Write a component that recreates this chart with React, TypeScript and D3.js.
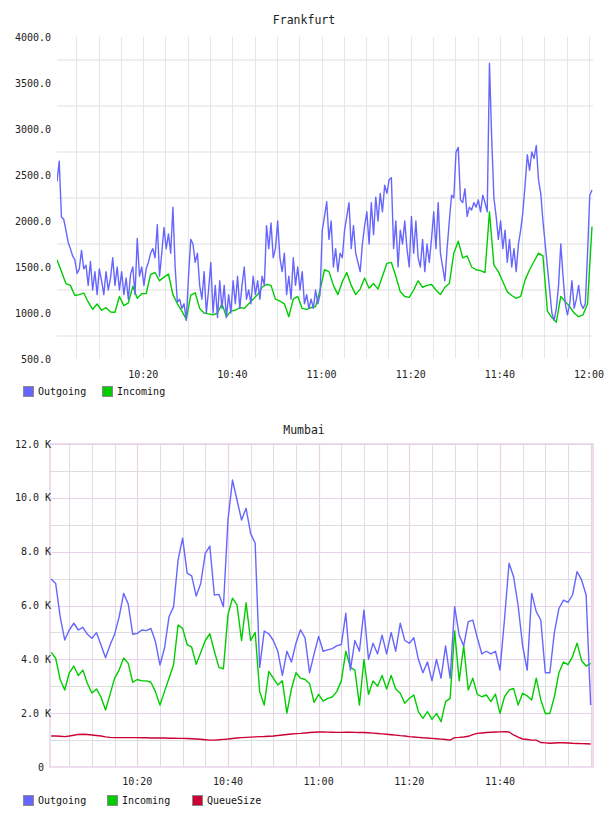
import React, { useEffect, useRef } from 'react';
import * as d3 from 'd3';

// Frankfurt: outgoing sampled every 30 s, incoming every minute, from 10:00:40
const FRA_START = '10:00:40';
const FRA_END = '12:00:40';
const FRA_OUT_STEP = 30;
const FRA_IN_STEP = 60;
const FRA_OUT = [
  2430, 2650, 2040, 2020, 1900, 1770, 1700, 1620, 1580, 1430, 1480, 1680, 1480, 1520, 1300, 1560,
  1250, 1450, 1200, 1480, 1350, 1200, 1450, 1250, 1380, 1600, 1300, 1500, 1250, 1450, 1200, 1380,
  1150, 1420, 1500, 1200, 1810, 1400, 1500, 1300, 1480, 1550, 1650, 1700, 1600, 1960, 1400, 1650,
  1930, 1700, 1860, 1650, 2150, 1500, 1120, 1150, 1050, 1100, 920, 1400, 1800, 1750, 1550, 1650,
  1300, 1150, 1450, 1000, 1250, 1550, 1000, 1300, 950, 1350, 1050, 1300, 950, 1200, 1000, 1350,
  1100, 1400, 1050, 1300, 1500, 1150, 1250, 1100, 1400, 1200, 1350, 1150, 1400, 1300, 1950, 1700,
  1980, 1600, 1700, 2000, 1600, 1450, 1650, 1200, 1400, 1150, 1600, 1300, 1500, 1250, 1450, 1100,
  1200, 1050, 1150, 1050, 1250, 1100, 1200, 1900, 2050, 2210, 1800, 2000, 1500, 1700, 1450, 1650,
  1600, 1900, 2050, 2200, 1700, 1950, 1650, 1550, 1450, 1750, 1950, 2100, 1750, 2200, 1850, 2260,
  2000, 2300, 2100, 2390, 2300, 2450, 2470, 1700, 2000, 1500, 1900, 1750, 2000, 1700, 1500, 2050,
  1650, 2000, 1600, 1500, 1800, 1450, 1750, 1550, 1800, 2100, 1700, 2200, 1650, 1500, 1350, 1700,
  2000, 2280, 2250, 2750, 2800, 2230, 2200, 2350, 2050, 2150, 2120, 2200, 2150, 2230, 2100, 2280,
  2200, 2100, 3714, 2900, 2250, 2050, 1800, 2000, 1700, 1900, 1550, 1800, 1500, 1700, 1450, 1750,
  1900, 2100, 2400, 2720, 2550, 2750, 2680, 2820, 2450, 2300, 2000, 1750, 1500, 1250, 1000, 920,
  1050, 1300, 1750, 1400, 1100, 980, 1100, 1350, 1050, 1150, 1300, 1100, 1050, 1100, 1650, 2280,
  2337,
];
const FRA_IN = [
  1580, 1450, 1320, 1300, 1190, 1200, 1217, 1120, 1040, 1098, 1030, 1058, 1010, 1008, 1180, 1080,
  1110, 1290, 1160, 1210, 1212, 1420, 1440, 1350, 1390, 1424, 1200, 1100, 1020, 930, 1195, 1220,
  1050, 1000, 990, 980, 1000, 1100, 960, 1020, 1030, 1060, 1050, 1100, 1150, 1200, 1280, 1310,
  1300, 1150, 1130, 1100, 960, 1150, 1180, 1050, 1040, 1060, 1070, 1250, 1470, 1450, 1300, 1200,
  1340, 1440, 1300, 1200, 1260, 1380, 1270, 1320, 1260, 1400, 1540, 1550, 1400, 1230, 1180, 1170,
  1250, 1350, 1280, 1300, 1310, 1250, 1200, 1280, 1320, 1650, 1780, 1600, 1620, 1500, 1470, 1460,
  1440, 2100, 1520, 1450, 1340, 1230, 1190, 1160, 1180, 1360, 1470, 1560, 1650, 1620, 1020, 950,
  900, 1180, 1124, 1070, 1000, 960, 980, 1100, 1940,
];
const FRA_Y_TICKS = [4000, 3500, 3000, 2500, 2000, 1500, 1000, 500];
const FRA_Y_GRID = [3750, 3250, 2750, 2250, 1750, 1250, 750];
const FRA_TIME_LABELS = ['10:20', '10:40', '11:00', '11:20', '11:40', '12:00'];

// Mumbai: all series sampled every minute from 10:01
const MUM_START = '10:01:00';
const MUM_DOMAIN = ['10:00:45', '12:00:31'];
const MUM_STEP = 60;
const MUM_OUT = [
  6985, 6820, 5580, 4720, 5090, 5340, 5090, 5190, 4930, 4780, 4990, 4530, 4060, 4530, 4930, 5580,
  6450, 6055, 4930, 4965, 5090, 5065, 5150, 4660, 3790, 4410, 5580, 5950, 7690, 8500, 7200, 7100,
  6350, 6820, 7940, 8210, 6390, 6415, 5955, 9175, 10660, 9920, 9175, 9610, 8680, 8310, 3700, 5050,
  4950, 4700, 4300, 3400, 4300, 3900, 4600, 5100, 4800, 3500, 4200, 4850, 4300, 4350, 4400, 4500,
  4550, 5710, 3600, 4700, 4300, 5830, 4000, 4600, 4200, 4900, 4200, 5000, 4300, 5340, 4700, 4600,
  4800, 4000, 3500, 3900, 3200, 4000, 3300, 4500, 3300, 5955, 4900, 4500, 5400, 5460, 4800, 4200,
  4300, 4200, 4300, 3600, 5500, 7570, 7070, 6000, 4500, 3600, 6450, 5770, 5460, 3500, 3500, 5000,
  5890, 6200, 6120, 6390, 7260, 6950, 6390, 2300,
];
const MUM_IN = [
  4260, 4040, 3250, 2860, 3500, 3750, 3400, 3600, 3100, 2750, 2900, 2600, 2120, 2700, 3300, 3600,
  4050, 3850, 3150, 3250, 3200, 3200, 3150, 2800, 2300, 2800, 3300, 3800, 5275, 5150, 4550, 4450,
  3815, 4250, 4700, 4950, 4300, 3700, 3650, 5650, 6270, 6020, 4700, 6100, 4700, 5000, 2800, 2300,
  3550, 3300, 3050, 3200, 2000, 2900, 3500, 3300, 3250, 3100, 2400, 2700, 2450, 2550, 2600, 2800,
  3200, 4300, 3700, 3600, 2300, 4000, 2700, 3200, 3000, 3400, 2900, 3400, 2900, 2740, 2370, 2550,
  2675, 2055, 1810, 2055, 1770, 1990, 1685, 2430, 2550, 5050, 3200, 4500, 2860, 3300, 2700, 2610,
  2675, 2430, 2710, 1990, 2610, 2860, 2920, 2300, 2740, 2640, 2490, 3300, 2500, 1990, 1990, 2610,
  3500, 3900, 3800, 4100, 4600, 3950, 3750, 3850,
];
const MUM_QUEUE = [
  1150, 1150, 1140, 1130, 1150, 1180, 1210, 1215, 1210, 1190, 1170, 1150, 1120, 1100, 1090, 1090,
  1090, 1090, 1090, 1090, 1085, 1085, 1080, 1080, 1075, 1075, 1070, 1070, 1065, 1065, 1060, 1050,
  1040, 1030, 1015, 1000, 1000, 1010, 1025, 1040, 1060, 1080, 1090, 1100, 1110, 1120, 1130, 1135,
  1145, 1150, 1170, 1190, 1210, 1225, 1240, 1250, 1265, 1280, 1290, 1300, 1300, 1295, 1290, 1285,
  1285, 1290, 1290, 1285, 1280, 1280, 1270, 1260, 1245, 1230, 1215, 1200, 1185, 1165, 1150, 1130,
  1115, 1100, 1085, 1075, 1065, 1050, 1035, 1020, 1000, 1090, 1100, 1115, 1140, 1200, 1250, 1265,
  1280, 1290, 1300, 1305, 1310, 1300, 1190, 1110, 1040, 1020, 1000, 1000, 910, 895, 880, 890,
  900, 900, 890, 880, 875, 870, 865, 855,
];
const MUM_Y_TICKS = [12000, 10000, 8000, 6000, 4000, 2000, 0];
const MUM_Y_GRID = [1000, 2000, 3000, 4000, 5000, 6000, 7000, 8000, 9000, 10000, 11000, 12000];
const MUM_TIME_LABELS = ['10:20', '10:40', '11:00', '11:20', '11:40'];

const BLUE = '#6666ff';
const GREEN = '#00cc00';
const RED = '#cc0033';
const FONT = '"DejaVu Sans Mono", monospace';

type Pt = { t: Date; v: number };

const parseTime = d3.timeParse('%H:%M:%S');
const parseHM = d3.timeParse('%H:%M');

function series(start: string, stepSec: number, values: number[]): Pt[] {
  const t0 = parseTime(start)!.getTime();
  return values.map((v, i) => ({ t: new Date(t0 + i * stepSec * 1000), v }));
}

function drawLine(g: any, data: Pt[], x: any, y: any, color: string) {
  const line = d3
    .line<Pt>()
    .x(d => x(d.t))
    .y(d => y(d.v));
  g.append('path')
    .datum(data)
    .attr('d', line)
    .attr('fill', 'none')
    .attr('stroke', color)
    .attr('stroke-width', 1.4)
    .attr('stroke-linejoin', 'round');
}

function drawLegend(svg: any, items: { name: string; color: string; x: number }[], y: number) {
  const lg = svg.append('g').attr('font-family', FONT).attr('font-size', 10);
  items.forEach(it => {
    lg.append('rect')
      .attr('x', it.x + 0.5)
      .attr('y', y + 0.5)
      .attr('width', 10)
      .attr('height', 10)
      .attr('fill', it.color)
      .attr('stroke', '#8a8a8a');
    lg.append('text')
      .attr('x', it.x + 15)
      .attr('y', y + 9)
      .attr('fill', '#111')
      .text(it.name);
  });
}

function drawFrankfurt(svg: any) {
  const left = 57,
    right = 593,
    top = 37,
    bottom = 359;
  const x = d3
    .scaleTime()
    .domain([parseTime(FRA_START)!, parseTime(FRA_END)!])
    .range([57, 592]);
  const y = d3.scaleLinear().domain([500, 4000]).range([bottom, top]);

  svg
    .append('text')
    .attr('x', 304)
    .attr('y', 24)
    .attr('text-anchor', 'middle')
    .attr('font-family', FONT)
    .attr('font-size', 11.5)
    .attr('fill', '#222')
    .text('Frankfurt');

  const grid = svg.append('g');
  grid
    .selectAll('.hgrid')
    .data(FRA_Y_GRID)
    .enter()
    .append('line')
    .attr('x1', left)
    .attr('x2', right)
    .attr('y1', (d: number) => y(d))
    .attr('y2', (d: number) => y(d))
    .attr('stroke', '#efefef')
    .attr('stroke-width', 2);
  grid
    .selectAll('.vgrid')
    .data(x.ticks(d3.timeMinute.every(5)!))
    .enter()
    .append('line')
    .attr('x1', (d: Date) => Math.round(x(d)) + 0.5)
    .attr('x2', (d: Date) => Math.round(x(d)) + 0.5)
    .attr('y1', top)
    .attr('y2', bottom - 1)
    .attr('stroke', '#e6e6e6')
    .attr('stroke-width', 1);

  const yl = svg.append('g').attr('font-family', FONT).attr('font-size', 10).attr('fill', '#222');
  yl.selectAll('text')
    .data(FRA_Y_TICKS)
    .enter()
    .append('text')
    .attr('x', 51)
    .attr('y', (d: number) => y(d) + 3.5)
    .attr('text-anchor', 'end')
    .text((d: number) => d3.format('.1f')(d));

  const xl = svg.append('g').attr('font-family', FONT).attr('font-size', 10).attr('fill', '#222');
  xl.selectAll('text')
    .data(FRA_TIME_LABELS)
    .enter()
    .append('text')
    .attr('x', (d: string) => x(parseHM(d)!))
    .attr('y', 378)
    .attr('text-anchor', 'middle')
    .text((d: string) => d);

  svg
    .append('clipPath')
    .attr('id', 'fra-clip')
    .append('rect')
    .attr('x', left)
    .attr('y', top - 2)
    .attr('width', right - left)
    .attr('height', bottom - top + 2);
  const plot = svg.append('g').attr('clip-path', 'url(#fra-clip)');
  drawLine(plot, series(FRA_START, FRA_IN_STEP, FRA_IN), x, y, GREEN);
  drawLine(plot, series(FRA_START, FRA_OUT_STEP, FRA_OUT), x, y, BLUE);

  drawLegend(
    svg,
    [
      { name: 'Outgoing', color: BLUE, x: 23 },
      { name: 'Incoming', color: GREEN, x: 102 },
    ],
    386,
  );
}

function drawMumbai(svg: any) {
  const left = 50,
    right = 593,
    top = 444,
    bottom = 767;
  const x = d3
    .scaleTime()
    .domain([parseTime(MUM_DOMAIN[0])!, parseTime(MUM_DOMAIN[1])!])
    .range([left, right]);
  const y = d3.scaleLinear().domain([0, 12000]).range([bottom, top]);

  svg
    .append('text')
    .attr('x', 304)
    .attr('y', 434)
    .attr('text-anchor', 'middle')
    .attr('font-family', FONT)
    .attr('font-size', 11.5)
    .attr('fill', '#222')
    .text('Mumbai');

  const minor = '#dedede';
  const major = '#e8d2e8';
  const isMajorT = (d: Date) => d.getMinutes() % 20 === 0;
  const vt = x.ticks(d3.timeMinute.every(5)!);

  const grid = svg.append('g');
  // minor lines first so the pink ones sit on top
  grid
    .selectAll('.hmin')
    .data(MUM_Y_GRID.filter(d => d % 2000 !== 0))
    .enter()
    .append('line')
    .attr('x1', left)
    .attr('x2', right)
    .attr('y1', (d: number) => Math.round(y(d)) + 0.5)
    .attr('y2', (d: number) => Math.round(y(d)) + 0.5)
    .attr('stroke', minor);
  grid
    .selectAll('.vmin')
    .data(vt.filter(d => !isMajorT(d)))
    .enter()
    .append('line')
    .attr('x1', (d: Date) => Math.round(x(d)) + 0.5)
    .attr('x2', (d: Date) => Math.round(x(d)) + 0.5)
    .attr('y1', top)
    .attr('y2', bottom)
    .attr('stroke', minor);
  grid
    .selectAll('.hmaj')
    .data(MUM_Y_GRID.filter(d => d % 2000 === 0))
    .enter()
    .append('line')
    .attr('x1', left)
    .attr('x2', right)
    .attr('y1', (d: number) => Math.round(y(d)) + 0.5)
    .attr('y2', (d: number) => Math.round(y(d)) + 0.5)
    .attr('stroke', major)
    .attr('stroke-width', 1.2);
  grid
    .selectAll('.vmaj')
    .data(vt.filter(isMajorT))
    .enter()
    .append('line')
    .attr('x1', (d: Date) => Math.round(x(d)) + 0.5)
    .attr('x2', (d: Date) => Math.round(x(d)) + 0.5)
    .attr('y1', top)
    .attr('y2', bottom)
    .attr('stroke', major)
    .attr('stroke-width', 1.2);
  grid
    .append('rect')
    .attr('x', left)
    .attr('y', top)
    .attr('width', right - left)
    .attr('height', bottom - top)
    .attr('fill', 'none')
    .attr('stroke', major)
    .attr('stroke-width', 1.5);

  const fmt = (d: number) => (d === 0 ? '0' : `${d3.format('.1f')(d / 1000)} K`);
  const yl = svg.append('g').attr('font-family', FONT).attr('font-size', 10).attr('fill', '#222');
  yl.selectAll('text')
    .data(MUM_Y_TICKS)
    .enter()
    .append('text')
    .attr('x', (d: number) => (d === 0 ? 44 : 51))
    .attr('y', (d: number) => y(d) + 3.5)
    .attr('text-anchor', 'end')
    .text(fmt);

  const xl = svg.append('g').attr('font-family', FONT).attr('font-size', 10).attr('fill', '#222');
  xl.selectAll('text')
    .data(MUM_TIME_LABELS)
    .enter()
    .append('text')
    .attr('x', (d: string) => x(parseHM(d)!))
    .attr('y', 785)
    .attr('text-anchor', 'middle')
    .text((d: string) => d);

  svg
    .append('clipPath')
    .attr('id', 'mum-clip')
    .append('rect')
    .attr('x', left)
    .attr('y', top)
    .attr('width', right - left)
    .attr('height', bottom - top);
  const plot = svg.append('g').attr('clip-path', 'url(#mum-clip)');
  drawLine(plot, series(MUM_START, MUM_STEP, MUM_QUEUE), x, y, RED);
  drawLine(plot, series(MUM_START, MUM_STEP, MUM_IN), x, y, GREEN);
  drawLine(plot, series(MUM_START, MUM_STEP, MUM_OUT), x, y, BLUE);

  drawLegend(
    svg,
    [
      { name: 'Outgoing', color: BLUE, x: 23 },
      { name: 'Incoming', color: GREEN, x: 107 },
      { name: 'QueueSize', color: RED, x: 192 },
    ],
    795,
  );
}

export default function App() {
  const ref = useRef<SVGSVGElement>(null);

  useEffect(() => {
    const svg = d3.select(ref.current);
    svg.selectAll('*').remove();
    svg.append('rect').attr('width', 604).attr('height', 816).attr('fill', '#fff');
    drawFrankfurt(svg);
    drawMumbai(svg);
  }, []);

  return (
    <svg
      ref={ref}
      width={604}
      height={816}
      style={{ position: 'absolute', left: 0, top: 0, display: 'block', overflow: 'hidden' }}
    />
  );
}
